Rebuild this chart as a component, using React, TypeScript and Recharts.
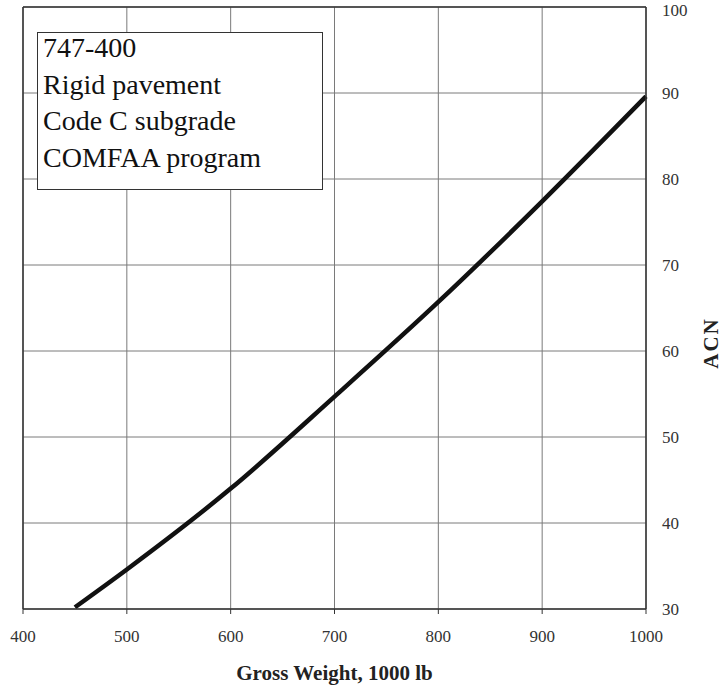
import React from 'react';
import { LineChart, Line, XAxis, YAxis, CartesianGrid, ReferenceLine } from 'recharts';

const weights = [450, 500, 600, 700, 800, 900, 1000];
const acnValues = [30.2, 34.6, 44.0, 54.7, 65.7, 77.4, 89.6];
const xTicks = [400, 500, 600, 700, 800, 900, 1000];
const yTicks = [30, 40, 50, 60, 70, 80, 90, 100];
const legendLines = ['747-400', 'Rigid pavement', 'Code C subgrade', 'COMFAA program'];
const xTitle = 'Gross Weight, 1000 lb';
const yTitle = 'ACN';

const data = weights.map((w, i) => ({ w, acn: acnValues[i] }));

const FONT = '"Liberation Serif", "Times New Roman", serif';

export default function App() {
  return (
    <div style={{ position: 'absolute', left: 0, top: 0, width: 723, height: 690, background: '#fff' }}>
      <LineChart
        width={723}
        height={690}
        data={data}
        margin={{ top: 7, left: 23, right: 17, bottom: 21 }}
      >
        <CartesianGrid stroke="#7a7a7a" strokeWidth={1} />
        <XAxis
          dataKey="w"
          type="number"
          domain={[400, 1000]}
          ticks={xTicks}
          height={60}
          axisLine={{ stroke: '#333', strokeWidth: 1.5 }}
          tickLine={{ stroke: '#333' }}
          tickSize={5}
          tickMargin={16}
          tick={{ fill: '#333', fontSize: 17, fontFamily: FONT }}
          label={{
            content: (props: any) => {
              const vb = props.viewBox || {};
              return (
                <text
                  x={vb.x + vb.width / 2}
                  y={vb.y + 71}
                  textAnchor="middle"
                  fontFamily={FONT}
                  fontWeight="bold"
                  fontSize={21}
                  fill="#222"
                >
                  {xTitle}
                </text>
              );
            },
          }}
        />
        <YAxis
          orientation="right"
          type="number"
          domain={[30, 100]}
          ticks={yTicks}
          width={60}
          axisLine={{ stroke: '#333', strokeWidth: 1.5 }}
          tickLine={false}
          tickSize={0}
          tickMargin={16}
          tick={{ fill: '#333', fontSize: 17, fontFamily: FONT, textAnchor: 'start' }}
          label={{
            content: (props: any) => {
              const vb = props.viewBox || {};
              const cx = vb.x + 65;
              const cy = vb.y + vb.height / 2 + 35;
              return (
                <text
                  x={cx}
                  y={cy}
                  textAnchor="middle"
                  dominantBaseline="central"
                  transform={`rotate(-90 ${cx} ${cy})`}
                  fontFamily={FONT}
                  fontWeight="bold"
                  fontSize={21}
                  letterSpacing={2}
                  fill="#222"
                >
                  {yTitle}
                </text>
              );
            },
          }}
        />
        <ReferenceLine y={100} stroke="#333" strokeWidth={1.5} ifOverflow="visible" />
        <ReferenceLine x={400} stroke="#333" strokeWidth={1.5} ifOverflow="visible" />
        <Line
          type="monotone"
          dataKey="acn"
          stroke="#111"
          strokeWidth={4.5}
          dot={false}
          isAnimationActive={false}
        />
      </LineChart>
      <div
        style={{
          position: 'absolute',
          left: 37,
          top: 32,
          width: 286,
          height: 158,
          border: '1.5px solid #333',
          background: '#fff',
          fontFamily: FONT,
          fontSize: 28,
          lineHeight: '36.5px',
          color: '#111',
          paddingLeft: 5,
          boxSizing: 'border-box',
          overflow: 'hidden',
        }}
      >
        <div style={{ marginTop: -3 }}>
          {legendLines.map((t) => (
            <div key={t} style={{ whiteSpace: 'nowrap' }}>{t}</div>
          ))}
        </div>
      </div>
    </div>
  );
}
